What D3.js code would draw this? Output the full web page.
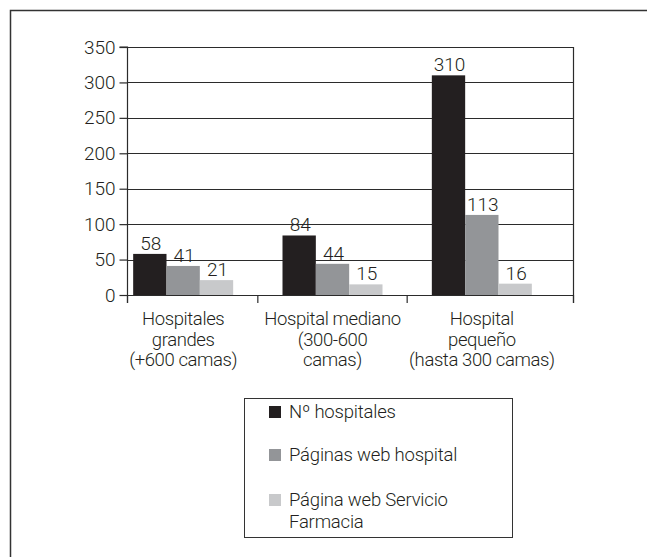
<!DOCTYPE html>
<html>
<head>
<meta charset="utf-8">
<script src="https://cdn.jsdelivr.net/npm/d3@7"></script>
<style>
  html, body { margin: 0; padding: 0; background: #fff; }
  svg { display: block; }
  text { font-family: Roboto, "Open Sans", sans-serif; font-weight: 300; fill: #231f20; }
</style>
</head>
<body>
<svg id="chart" width="647" height="557"></svg>
<script>
// ---- data ----
const categories = ["Hospitales grandes (+600 camas)", "Hospital mediano (300-600 camas)", "Hospital pequeño (hasta 300 camas)"];
const categoryLines = [["Hospitales", "grandes", "(+600 camas)"], ["Hospital mediano", "(300-600", "camas)"], ["Hospital", "pequeño", "(hasta 300 camas)"]];
const seriesNames = ["Nº hospitales", "Páginas web hospital", "Página web Servicio Farmacia"];
const legendLines = [["Nº hospitales"], ["Páginas web hospital"], ["Página web Servicio", "Farmacia"]];
const nHospitales = [58, 84, 310];
const paginasWebHospital = [41, 44, 113];
const paginaWebFarmacia = [21, 15, 16];
const yTicks = [0, 50, 100, 150, 200, 250, 300, 350];
const seriesColors = ["#231f20", "#939598", "#c8c9cb"];

const seriesValues = [nHospitales, paginasWebHospital, paginaWebFarmacia];
const FONT = 'Roboto, "Open Sans", sans-serif';

const svg = d3.select("#chart");

// outer frame (top and left only)
svg.append("path")
  .attr("d", "M10.5,557 V10.5 H647")
  .attr("fill", "none").attr("stroke", "#333").attr("stroke-width", 1.5);

const plot = { left: 127, right: 573, top: 47, bottom: 295 };

const y = d3.scaleLinear().domain([0, 350]).range([plot.bottom, plot.top]);
const x0 = d3.scaleBand().domain(categories).range([108.5, 556.5]).paddingInner(0).paddingOuter(0);
const groupWidth = 100;
const x1 = d3.scaleBand().domain(seriesNames).range([0, groupWidth]).padding(0);

// gridlines
svg.append("g").selectAll("line").data(yTicks.filter(d => d > 0)).join("line")
  .attr("x1", plot.left).attr("x2", plot.right)
  .attr("y1", d => Math.round(y(d)) + 0.5).attr("y2", d => Math.round(y(d)) + 0.5)
  .attr("stroke", "#2b2b2b").attr("stroke-width", 1.2);

// right border of plot
svg.append("line")
  .attr("x1", plot.right + 0.5).attr("x2", plot.right + 0.5)
  .attr("y1", plot.top).attr("y2", plot.bottom + 8)
  .attr("stroke", "#2b2b2b").attr("stroke-width", 1.2);

// bars
const groups = svg.append("g").selectAll("g").data(categories).join("g")
  .attr("transform", c => `translate(${x0(c) + (x0.bandwidth() - groupWidth) / 2},0)`);

groups.each(function(c, ci) {
  const g = d3.select(this);
  seriesNames.forEach((s, si) => {
    const v = seriesValues[si][ci];
    g.append("rect")
      .attr("x", x1(s)).attr("width", x1.bandwidth())
      .attr("y", y(v)).attr("height", y(0) - y(v))
      .attr("fill", seriesColors[si]);
    g.append("text")
      .attr("x", x1(s) + x1.bandwidth() / 2 + 1)
      .attr("y", y(v) - 4)
      .attr("text-anchor", "middle")
      .attr("font-size", 19)
      .text(v);
  });
});

// y axis
const yAxis = d3.axisLeft(y).tickValues(yTicks).tickSize(8).tickPadding(4);
const yg = svg.append("g").attr("transform", `translate(${plot.left + 0.5},0)`).call(yAxis);
yg.select(".domain").attr("stroke", "#2b2b2b").attr("stroke-width", 1.2)
  .attr("d", `M-8,${y(350)}H0V${y(0) + 8}`);
yg.selectAll(".tick line").attr("stroke", "#2b2b2b").attr("stroke-width", 1.2);
yg.selectAll(".tick text").attr("font-size", 19).attr("fill", "#231f20")
  .style("font-family", FONT).style("font-weight", 300);

// x axis line + ticks at band boundaries and ends
svg.append("line")
  .attr("x1", plot.left).attr("x2", plot.right + 1)
  .attr("y1", Math.round(y(0)) + 0.5).attr("y2", Math.round(y(0)) + 0.5)
  .attr("stroke", "#2b2b2b").attr("stroke-width", 1.2);
const xTickPos = [plot.left + 0.5].concat(categories.slice(1).map(c => x0(c))).concat([plot.right + 0.5]);
svg.append("g").selectAll("line").data(xTickPos).join("line")
  .attr("x1", d => d).attr("x2", d => d)
  .attr("y1", y(0)).attr("y2", y(0) + 8)
  .attr("stroke", "#2b2b2b").attr("stroke-width", 1.2);

// category labels
categories.forEach((c, ci) => {
  const cx = x0(c) + x0.bandwidth() / 2;
  const t = svg.append("text").attr("text-anchor", "middle").attr("font-size", 18.5)
    .attr("letter-spacing", -0.4);
  categoryLines[ci].forEach((line, li) => {
    t.append("tspan").attr("x", cx).attr("y", 325 + li * 20.5).text(line);
  });
});

// legend
svg.append("rect")
  .attr("x", 244.5).attr("y", 398.5).attr("width", 268).attr("height", 139)
  .attr("fill", "none").attr("stroke", "#333").attr("stroke-width", 1);
const legendY = [412, 455, 500];
seriesNames.forEach((s, si) => {
  svg.append("rect")
    .attr("x", 269).attr("y", legendY[si] - 6).attr("width", 12).attr("height", 12)
    .attr("fill", seriesColors[si]);
  const t = svg.append("text").attr("font-size", 18.5).attr("letter-spacing", -0.2);
  legendLines[si].forEach((line, li) => {
    t.append("tspan").attr("x", 289).attr("y", legendY[si] + li * 21.5).attr("dy", "0.35em").text(line);
  });
});
</script>
</body>
</html>
